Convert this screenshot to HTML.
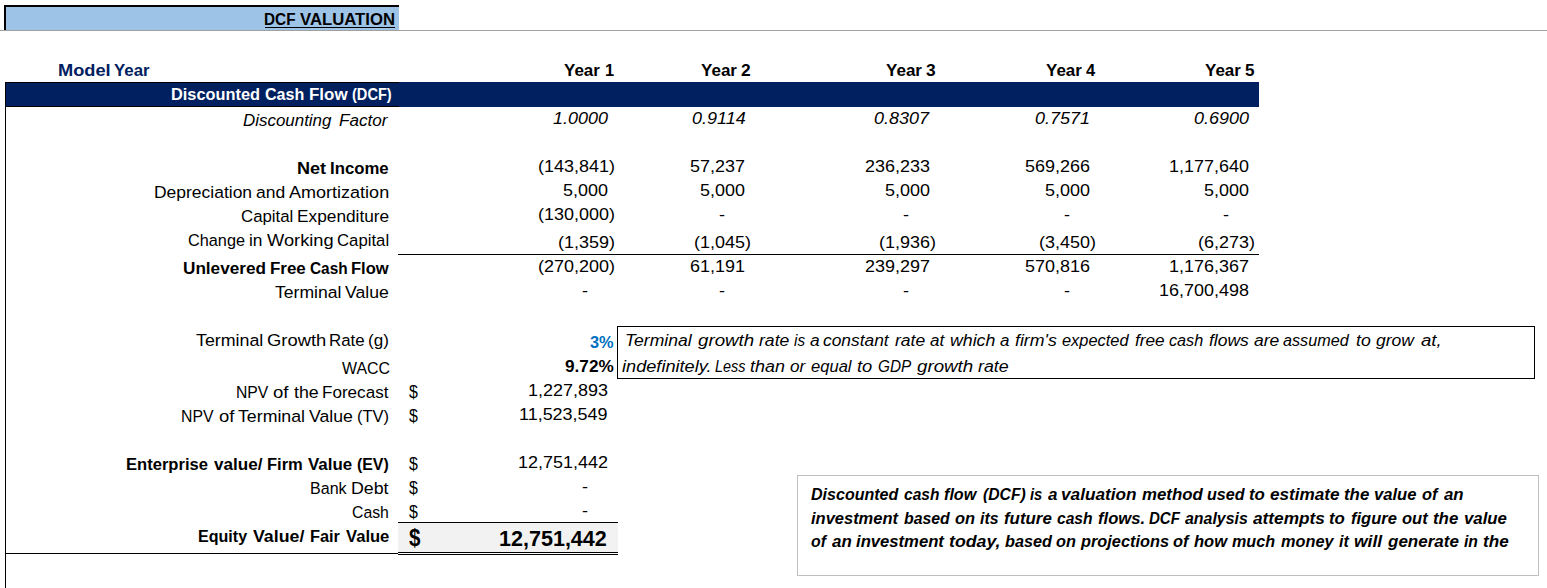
<!DOCTYPE html>
<html><head><meta charset="utf-8"><title>DCF Valuation</title>
<style>
html,body{margin:0;padding:0;background:#fff}
body{width:1547px;height:588px;position:relative;overflow:hidden;font-family:"Liberation Sans", sans-serif;color:#000}
.t{position:absolute;white-space:pre;line-height:1;transform-origin:0 0}
.b{position:absolute}
</style></head>
<body>
<div class="b" style="left:0;top:30px;width:1547px;height:1px;background:#a0a0a0"></div>
<div class="b" style="left:6px;top:7px;width:393px;height:23px;background:#9dc3e6"></div>
<div class="b" style="left:4px;top:5px;width:395px;height:2px;background:#000"></div>
<div class="b" style="left:4px;top:5px;width:2px;height:25px;background:#000"></div>
<div class="b" style="left:265px;top:27px;width:130px;height:1px;background:#000"></div>
<div class="b" style="left:5px;top:82px;width:1254px;height:25px;background:#002060"></div>
<div class="b" style="left:5px;top:82px;width:394px;height:1px;background:#000"></div>
<div class="b" style="left:5px;top:106px;width:394px;height:1px;background:#000"></div>
<div class="b" style="left:5px;top:82px;width:1px;height:506px;background:#000"></div>
<div class="b" style="left:398px;top:254px;width:861px;height:1px;background:#000"></div>
<div class="b" style="left:5px;top:553px;width:393px;height:1px;background:#000"></div>
<div class="b" style="left:398px;top:523px;width:220px;height:29px;background:#f2f2f2"></div>
<div class="b" style="left:398px;top:522px;width:220px;height:1px;background:#000"></div>
<div class="b" style="left:398px;top:552px;width:220px;height:1px;background:#000"></div>
<div class="b" style="left:398px;top:554px;width:220px;height:1px;background:#000"></div>
<div class="b" style="left:617px;top:326px;width:916px;height:51px;border:1px solid #000"></div>
<div class="b" style="left:797px;top:475px;width:740px;height:99px;border:1px solid #bfbfbf"></div>

<span class="t" style="left:537.51px;top:158px;font-size:17px;transform:scaleX(1.0563)">(143,841)</span>
<span class="t" style="left:689.87px;top:158px;font-size:17px;transform:scaleX(1.0563)">57,237</span>
<span class="t" style="left:864.73px;top:158px;font-size:17px;transform:scaleX(1.0563)">236,233</span>
<span class="t" style="left:1025.23px;top:158px;font-size:17px;transform:scaleX(1.0563)">569,266</span>
<span class="t" style="left:1169.18px;top:158px;font-size:17px;transform:scaleX(1.0563)">1,177,640</span>
<span class="t" style="left:563.20px;top:182px;font-size:17px;transform:scaleX(1.0563)">5,000</span>
<span class="t" style="left:699.90px;top:182px;font-size:17px;transform:scaleX(1.0563)">5,000</span>
<span class="t" style="left:884.80px;top:182px;font-size:17px;transform:scaleX(1.0563)">5,000</span>
<span class="t" style="left:1045.30px;top:182px;font-size:17px;transform:scaleX(1.0563)">5,000</span>
<span class="t" style="left:1204.30px;top:182px;font-size:17px;transform:scaleX(1.0563)">5,000</span>
<span class="t" style="left:537.51px;top:206px;font-size:17px;transform:scaleX(1.0563)">(130,000)</span>
<span class="t" style="left:718.72px;top:206px;font-size:17px;transform:scaleX(1.0563)">-</span>
<span class="t" style="left:903.32px;top:206px;font-size:17px;transform:scaleX(1.0563)">-</span>
<span class="t" style="left:1064.12px;top:206px;font-size:17px;transform:scaleX(1.0563)">-</span>
<span class="t" style="left:1223.22px;top:206px;font-size:17px;transform:scaleX(1.0563)">-</span>
<span class="t" style="left:557.58px;top:234px;font-size:17px;transform:scaleX(1.0563)">(1,359)</span>
<span class="t" style="left:694.08px;top:234px;font-size:17px;transform:scaleX(1.0563)">(1,045)</span>
<span class="t" style="left:879.08px;top:234px;font-size:17px;transform:scaleX(1.0563)">(1,936)</span>
<span class="t" style="left:1039.28px;top:234px;font-size:17px;transform:scaleX(1.0563)">(3,450)</span>
<span class="t" style="left:1198.48px;top:234px;font-size:17px;transform:scaleX(1.0563)">(6,273)</span>
<span class="t" style="left:537.51px;top:258px;font-size:17px;transform:scaleX(1.0563)">(270,200)</span>
<span class="t" style="left:689.87px;top:258px;font-size:17px;transform:scaleX(1.0563)">61,191</span>
<span class="t" style="left:865.00px;top:258px;font-size:17px;transform:scaleX(1.0563)">239,297</span>
<span class="t" style="left:1025.23px;top:258px;font-size:17px;transform:scaleX(1.0563)">570,816</span>
<span class="t" style="left:1169.44px;top:258px;font-size:17px;transform:scaleX(1.0563)">1,176,367</span>
<span class="t" style="left:582.12px;top:282px;font-size:17px;transform:scaleX(1.0563)">-</span>
<span class="t" style="left:718.72px;top:282px;font-size:17px;transform:scaleX(1.0563)">-</span>
<span class="t" style="left:903.32px;top:282px;font-size:17px;transform:scaleX(1.0563)">-</span>
<span class="t" style="left:1064.12px;top:282px;font-size:17px;transform:scaleX(1.0563)">-</span>
<span class="t" style="left:1159.41px;top:282px;font-size:17px;transform:scaleX(1.0563)">16,700,498</span>
<span class="t" style="left:552.61px;top:110px;font-size:17px;font-style:italic;transform:scaleX(1.0576)">1.0000</span>
<span class="t" style="left:692.02px;top:110px;font-size:17px;font-style:italic;transform:scaleX(1.0576)">0.9114</span>
<span class="t" style="left:874.28px;top:110px;font-size:17px;font-style:italic;transform:scaleX(1.0576)">0.8307</span>
<span class="t" style="left:1035.39px;top:110px;font-size:17px;font-style:italic;transform:scaleX(1.0576)">0.7571</span>
<span class="t" style="left:1193.81px;top:110px;font-size:17px;font-style:italic;transform:scaleX(1.0576)">0.6900</span>
<span class="t" style="left:527.68px;top:382px;font-size:17px;transform:scaleX(1.0563)">1,227,893</span>
<span class="t" style="left:519.23px;top:406px;font-size:17px;transform:scaleX(1.0563)">11,523,549</span>
<span class="t" style="left:517.91px;top:454px;font-size:17px;transform:scaleX(1.0563)">12,751,442</span>
<span class="t" style="left:582.12px;top:478px;font-size:17px;transform:scaleX(1.0563)">-</span>
<span class="t" style="left:582.12px;top:502px;font-size:17px;transform:scaleX(1.0563)">-</span>
<span class="t" style="left:264.37px;top:11px;font-size:17.4px;font-weight:bold;transform:scaleX(0.8811)">DCF</span>
<span class="t" style="left:300.05px;top:11px;font-size:17.4px;font-weight:bold;transform:scaleX(0.9612)">VALUATION</span>
<span class="t" style="left:57.93px;top:62px;font-size:17.4px;font-weight:bold;color:#002060;transform:scaleX(1.0475)">Model</span>
<span class="t" style="left:114.24px;top:62px;font-size:17.4px;font-weight:bold;color:#002060;transform:scaleX(0.9682)">Year</span>
<span class="t" style="left:563.95px;top:62px;font-size:17.4px;font-weight:bold;transform:scaleX(0.9759)">Year</span>
<span class="t" style="left:604.66px;top:62px;font-size:17.4px;font-weight:bold;transform:scaleX(0.9439)">1</span>
<span class="t" style="left:700.89px;top:62px;font-size:17.4px;font-weight:bold;transform:scaleX(0.9790)">Year</span>
<span class="t" style="left:741.26px;top:62px;font-size:17.4px;font-weight:bold;transform:scaleX(0.9984)">2</span>
<span class="t" style="left:885.89px;top:62px;font-size:17.4px;font-weight:bold;transform:scaleX(0.9790)">Year</span>
<span class="t" style="left:926.46px;top:62px;font-size:17.4px;font-weight:bold;transform:scaleX(0.9984)">3</span>
<span class="t" style="left:1045.74px;top:62px;font-size:17.4px;font-weight:bold;transform:scaleX(0.9760)">Year</span>
<span class="t" style="left:1086.08px;top:62px;font-size:17.4px;font-weight:bold;transform:scaleX(0.9475)">4</span>
<span class="t" style="left:1204.71px;top:62px;font-size:17.4px;font-weight:bold;transform:scaleX(0.9780)">Year</span>
<span class="t" style="left:1244.92px;top:62px;font-size:17.4px;font-weight:bold;transform:scaleX(0.9809)">5</span>
<span class="t" style="left:170.90px;top:86px;font-size:17.4px;font-weight:bold;color:#fff;transform:scaleX(0.9393)">Discounted</span>
<span class="t" style="left:264.62px;top:86px;font-size:17.4px;font-weight:bold;color:#fff;transform:scaleX(0.9245)">Cash</span>
<span class="t" style="left:308.50px;top:86px;font-size:17.4px;font-weight:bold;color:#fff;transform:scaleX(0.9745)">Flow</span>
<span class="t" style="left:352.04px;top:86px;font-size:17.4px;font-weight:bold;color:#fff;transform:scaleX(0.8385)">(DCF)</span>
<span class="t" style="left:243.10px;top:112px;font-size:17.4px;font-style:italic;transform:scaleX(0.9732)">Discounting</span>
<span class="t" style="left:338.53px;top:112px;font-size:17.4px;font-style:italic;transform:scaleX(0.9837)">Factor</span>
<span class="t" style="left:296.80px;top:160px;font-size:17.4px;font-weight:bold;transform:scaleX(1.0379)">Net</span>
<span class="t" style="left:330.49px;top:160px;font-size:17.4px;font-weight:bold;transform:scaleX(0.9628)">Income</span>
<span class="t" style="left:154.14px;top:184px;font-size:17.4px;transform:scaleX(1.0043)">Depreciation</span>
<span class="t" style="left:255.90px;top:184px;font-size:17.4px;transform:scaleX(1.0071)">and</span>
<span class="t" style="left:289.37px;top:184px;font-size:17.4px;transform:scaleX(1.0362)">Amortization</span>
<span class="t" style="left:241.01px;top:208px;font-size:17.4px;transform:scaleX(0.9671)">Capital</span>
<span class="t" style="left:296.95px;top:208px;font-size:17.4px;transform:scaleX(0.9936)">Expenditure</span>
<span class="t" style="left:187.90px;top:232px;font-size:17.4px;transform:scaleX(0.9360)">Change</span>
<span class="t" style="left:249.30px;top:232px;font-size:17.4px;transform:scaleX(0.9965)">in</span>
<span class="t" style="left:266.69px;top:232px;font-size:17.4px;transform:scaleX(1.0498)">Working</span>
<span class="t" style="left:337.49px;top:232px;font-size:17.4px;transform:scaleX(0.9624)">Capital</span>
<span class="t" style="left:182.74px;top:260px;font-size:17.4px;font-weight:bold;transform:scaleX(0.9860)">Unlevered</span>
<span class="t" style="left:269.76px;top:260px;font-size:17.4px;font-weight:bold;transform:scaleX(0.9730)">Free</span>
<span class="t" style="left:309.86px;top:260px;font-size:17.4px;font-weight:bold;transform:scaleX(0.8849)">Cash</span>
<span class="t" style="left:350.80px;top:260px;font-size:17.4px;font-weight:bold;transform:scaleX(0.9522)">Flow</span>
<span class="t" style="left:275.19px;top:284px;font-size:17.4px;transform:scaleX(1.0111)">Terminal</span>
<span class="t" style="left:345.26px;top:284px;font-size:17.4px;transform:scaleX(1.0150)">Value</span>
<span class="t" style="left:195.91px;top:332px;font-size:17.4px;transform:scaleX(1.0242)">Terminal</span>
<span class="t" style="left:266.67px;top:332px;font-size:17.4px;transform:scaleX(1.0577)">Growth</span>
<span class="t" style="left:329.06px;top:332px;font-size:17.4px;transform:scaleX(0.9703)">Rate</span>
<span class="t" style="left:368.47px;top:332px;font-size:17.4px;transform:scaleX(0.9813)">(g)</span>
<span class="t" style="left:341.57px;top:360px;font-size:17.4px;transform:scaleX(0.9146)">WACC</span>
<span class="t" style="left:236.23px;top:384px;font-size:17.4px;transform:scaleX(0.9029)">NPV</span>
<span class="t" style="left:273.45px;top:384px;font-size:17.4px;transform:scaleX(1.0688)">of</span>
<span class="t" style="left:294.01px;top:384px;font-size:17.4px;transform:scaleX(1.0223)">the</span>
<span class="t" style="left:322.43px;top:384px;font-size:17.4px;transform:scaleX(0.9817)">Forecast</span>
<span class="t" style="left:181.21px;top:408px;font-size:17.4px;transform:scaleX(0.9093)">NPV</span>
<span class="t" style="left:218.60px;top:408px;font-size:17.4px;transform:scaleX(1.0629)">of</span>
<span class="t" style="left:238.41px;top:408px;font-size:17.4px;transform:scaleX(1.0197)">Terminal</span>
<span class="t" style="left:309.45px;top:408px;font-size:17.4px;transform:scaleX(1.0153)">Value</span>
<span class="t" style="left:357.29px;top:408px;font-size:17.4px;transform:scaleX(0.9489)">(TV)</span>
<span class="t" style="left:125.79px;top:456px;font-size:17.4px;font-weight:bold;transform:scaleX(0.9523)">Enterprise</span>
<span class="t" style="left:213.51px;top:456px;font-size:17.4px;font-weight:bold;transform:scaleX(0.9825)">value/</span>
<span class="t" style="left:267.09px;top:456px;font-size:17.4px;font-weight:bold;transform:scaleX(0.9505)">Firm</span>
<span class="t" style="left:308.02px;top:456px;font-size:17.4px;font-weight:bold;transform:scaleX(0.9723)">Value</span>
<span class="t" style="left:356.94px;top:456px;font-size:17.4px;font-weight:bold;transform:scaleX(0.9127)">(EV)</span>
<span class="t" style="left:309.52px;top:480px;font-size:17.4px;transform:scaleX(0.9233)">Bank</span>
<span class="t" style="left:351.17px;top:480px;font-size:17.4px;transform:scaleX(1.0226)">Debt</span>
<span class="t" style="left:351.72px;top:504px;font-size:17.4px;transform:scaleX(0.9084)">Cash</span>
<span class="t" style="left:198.09px;top:528px;font-size:17.4px;font-weight:bold;transform:scaleX(0.9237)">Equity</span>
<span class="t" style="left:253.18px;top:528px;font-size:17.4px;font-weight:bold;transform:scaleX(1.0215)">Value/</span>
<span class="t" style="left:309.84px;top:528px;font-size:17.4px;font-weight:bold;transform:scaleX(0.9400)">Fair</span>
<span class="t" style="left:345.53px;top:528px;font-size:17.4px;font-weight:bold;transform:scaleX(0.9541)">Value</span>
<span class="t" style="left:590.09px;top:335px;font-size:16px;font-weight:bold;color:#0070C0;transform:scaleX(1.0202)">3%</span>
<span class="t" style="left:564.96px;top:359px;font-size:16px;font-weight:bold;transform:scaleX(1.0742)">9.72%</span>
<span class="t" style="left:408.68px;top:383px;font-size:18px;transform:scaleX(0.8842)">$</span>
<span class="t" style="left:408.68px;top:407px;font-size:18px;transform:scaleX(0.8842)">$</span>
<span class="t" style="left:408.68px;top:455px;font-size:18px;transform:scaleX(0.8842)">$</span>
<span class="t" style="left:408.68px;top:479px;font-size:18px;transform:scaleX(0.8842)">$</span>
<span class="t" style="left:408.68px;top:503px;font-size:18px;transform:scaleX(0.8842)">$</span>
<span class="t" style="left:409.29px;top:526px;font-size:24px;font-weight:bold;transform:scaleX(0.8549)">$</span>
<span class="t" style="left:499.35px;top:529px;font-size:21.5px;font-weight:bold;transform:scaleX(1.0019)">12,751,442</span>
<span class="t" style="left:624.75px;top:332px;font-size:17.4px;font-style:italic;transform:scaleX(1.0088)">Terminal</span>
<span class="t" style="left:697.73px;top:332px;font-size:17.4px;font-style:italic;transform:scaleX(1.0764)">growth</span>
<span class="t" style="left:758.72px;top:332px;font-size:17.4px;font-style:italic;transform:scaleX(1.0120)">rate</span>
<span class="t" style="left:793.82px;top:332px;font-size:17.4px;font-style:italic;transform:scaleX(0.8772)">is</span>
<span class="t" style="left:809.62px;top:332px;font-size:17.4px;font-style:italic;transform:scaleX(0.9966)">a</span>
<span class="t" style="left:823.02px;top:332px;font-size:17.4px;font-style:italic;transform:scaleX(0.9986)">constant</span>
<span class="t" style="left:894.70px;top:332px;font-size:17.4px;font-style:italic;transform:scaleX(1.0066)">rate</span>
<span class="t" style="left:930.14px;top:332px;font-size:17.4px;font-style:italic;transform:scaleX(0.9753)">at</span>
<span class="t" style="left:949.79px;top:332px;font-size:17.4px;font-style:italic;transform:scaleX(1.0196)">which</span>
<span class="t" style="left:1000.23px;top:332px;font-size:17.4px;font-style:italic;transform:scaleX(0.9724)">a</span>
<span class="t" style="left:1015.00px;top:332px;font-size:17.4px;font-style:italic;transform:scaleX(1.0197)">firm's</span>
<span class="t" style="left:1061.63px;top:332px;font-size:17.4px;font-style:italic;transform:scaleX(0.9432)">expected</span>
<span class="t" style="left:1134.79px;top:332px;font-size:17.4px;font-style:italic;transform:scaleX(0.9890)">free</span>
<span class="t" style="left:1168.79px;top:332px;font-size:17.4px;font-style:italic;transform:scaleX(0.9321)">cash</span>
<span class="t" style="left:1209.05px;top:332px;font-size:17.4px;font-style:italic;transform:scaleX(1.0063)">flows</span>
<span class="t" style="left:1253.55px;top:332px;font-size:17.4px;font-style:italic;transform:scaleX(1.0076)">are</span>
<span class="t" style="left:1283.48px;top:332px;font-size:17.4px;font-style:italic;transform:scaleX(0.9305)">assumed</span>
<span class="t" style="left:1355.64px;top:332px;font-size:17.4px;font-style:italic;transform:scaleX(1.0186)">to</span>
<span class="t" style="left:1375.56px;top:332px;font-size:17.4px;font-style:italic;transform:scaleX(1.0074)">grow</span>
<span class="t" style="left:1420.58px;top:332px;font-size:17.4px;font-style:italic;transform:scaleX(1.0725)">at,</span>
<span class="t" style="left:621.65px;top:358px;font-size:17.4px;font-style:italic;transform:scaleX(1.0447)">indefinitely.</span>
<span class="t" style="left:714.94px;top:358px;font-size:17.4px;font-style:italic;transform:scaleX(0.8304)">Less</span>
<span class="t" style="left:750.08px;top:358px;font-size:17.4px;font-style:italic;transform:scaleX(1.0293)">than</span>
<span class="t" style="left:790.09px;top:358px;font-size:17.4px;font-style:italic;transform:scaleX(0.9885)">or</span>
<span class="t" style="left:811.27px;top:358px;font-size:17.4px;font-style:italic;transform:scaleX(0.9531)">equal</span>
<span class="t" style="left:856.97px;top:358px;font-size:17.4px;font-style:italic;transform:scaleX(1.0556)">to</span>
<span class="t" style="left:877.70px;top:358px;font-size:17.4px;font-style:italic;transform:scaleX(0.8811)">GDP</span>
<span class="t" style="left:916.94px;top:358px;font-size:17.4px;font-style:italic;transform:scaleX(1.0761)">growth</span>
<span class="t" style="left:978.07px;top:358px;font-size:17.4px;font-style:italic;transform:scaleX(1.0224)">rate</span>
<span class="t" style="left:810.97px;top:486px;font-size:17.4px;font-weight:bold;font-style:italic;transform:scaleX(0.9223)">Discounted</span>
<span class="t" style="left:903.54px;top:486px;font-size:17.4px;font-weight:bold;font-style:italic;transform:scaleX(0.8918)">cash</span>
<span class="t" style="left:944.44px;top:486px;font-size:17.4px;font-weight:bold;font-style:italic;transform:scaleX(0.9295)">flow</span>
<span class="t" style="left:982.88px;top:486px;font-size:17.4px;font-weight:bold;font-style:italic;transform:scaleX(0.9026)">(DCF)</span>
<span class="t" style="left:1030.40px;top:486px;font-size:17.4px;font-weight:bold;font-style:italic;transform:scaleX(0.8497)">is</span>
<span class="t" style="left:1047.73px;top:486px;font-size:17.4px;font-weight:bold;font-style:italic;transform:scaleX(0.9779)">a</span>
<span class="t" style="left:1061.09px;top:486px;font-size:17.4px;font-weight:bold;font-style:italic;transform:scaleX(0.9899)">valuation</span>
<span class="t" style="left:1142.04px;top:486px;font-size:17.4px;font-weight:bold;font-style:italic;transform:scaleX(0.9677)">method</span>
<span class="t" style="left:1207.23px;top:486px;font-size:17.4px;font-weight:bold;font-style:italic;transform:scaleX(0.9264)">used</span>
<span class="t" style="left:1249.37px;top:486px;font-size:17.4px;font-weight:bold;font-style:italic;transform:scaleX(0.9707)">to</span>
<span class="t" style="left:1270.06px;top:486px;font-size:17.4px;font-weight:bold;font-style:italic;transform:scaleX(0.9854)">estimate</span>
<span class="t" style="left:1344.36px;top:486px;font-size:17.4px;font-weight:bold;font-style:italic;transform:scaleX(0.9687)">the</span>
<span class="t" style="left:1374.48px;top:486px;font-size:17.4px;font-weight:bold;font-style:italic;transform:scaleX(0.9543)">value</span>
<span class="t" style="left:1422.32px;top:486px;font-size:17.4px;font-weight:bold;font-style:italic;transform:scaleX(0.9453)">of</span>
<span class="t" style="left:1443.68px;top:486px;font-size:17.4px;font-weight:bold;font-style:italic;transform:scaleX(0.9661)">an</span>
<span class="t" style="left:811.08px;top:510px;font-size:17.4px;font-weight:bold;font-style:italic;transform:scaleX(0.9474)">investment</span>
<span class="t" style="left:904.35px;top:510px;font-size:17.4px;font-weight:bold;font-style:italic;transform:scaleX(0.9105)">based</span>
<span class="t" style="left:955.44px;top:510px;font-size:17.4px;font-weight:bold;font-style:italic;transform:scaleX(0.9442)">on</span>
<span class="t" style="left:980.36px;top:510px;font-size:17.4px;font-weight:bold;font-style:italic;transform:scaleX(0.9141)">its</span>
<span class="t" style="left:1004.38px;top:510px;font-size:17.4px;font-weight:bold;font-style:italic;transform:scaleX(0.9703)">future</span>
<span class="t" style="left:1056.57px;top:510px;font-size:17.4px;font-weight:bold;font-style:italic;transform:scaleX(0.8976)">cash</span>
<span class="t" style="left:1097.54px;top:510px;font-size:17.4px;font-weight:bold;font-style:italic;transform:scaleX(0.9571)">flows.</span>
<span class="t" style="left:1148.97px;top:510px;font-size:17.4px;font-weight:bold;font-style:italic;transform:scaleX(0.8649)">DCF</span>
<span class="t" style="left:1185.09px;top:510px;font-size:17.4px;font-weight:bold;font-style:italic;transform:scaleX(0.9137)">analysis</span>
<span class="t" style="left:1252.80px;top:510px;font-size:17.4px;font-weight:bold;font-style:italic;transform:scaleX(0.9923)">attempts</span>
<span class="t" style="left:1329.38px;top:510px;font-size:17.4px;font-weight:bold;font-style:italic;transform:scaleX(0.9694)">to</span>
<span class="t" style="left:1351.31px;top:510px;font-size:17.4px;font-weight:bold;font-style:italic;transform:scaleX(0.9480)">figure</span>
<span class="t" style="left:1401.96px;top:510px;font-size:17.4px;font-weight:bold;font-style:italic;transform:scaleX(0.9525)">out</span>
<span class="t" style="left:1433.08px;top:510px;font-size:17.4px;font-weight:bold;font-style:italic;transform:scaleX(0.9678)">the</span>
<span class="t" style="left:1463.53px;top:510px;font-size:17.4px;font-weight:bold;font-style:italic;transform:scaleX(0.9655)">value</span>
<span class="t" style="left:810.68px;top:533px;font-size:17.4px;font-weight:bold;font-style:italic;transform:scaleX(0.9123)">of</span>
<span class="t" style="left:831.87px;top:533px;font-size:17.4px;font-weight:bold;font-style:italic;transform:scaleX(0.9722)">an</span>
<span class="t" style="left:855.97px;top:533px;font-size:17.4px;font-weight:bold;font-style:italic;transform:scaleX(0.9574)">investment</span>
<span class="t" style="left:949.19px;top:533px;font-size:17.4px;font-weight:bold;font-style:italic;transform:scaleX(1.0193)">today,</span>
<span class="t" style="left:1004.78px;top:533px;font-size:17.4px;font-weight:bold;font-style:italic;transform:scaleX(0.9328)">based</span>
<span class="t" style="left:1055.96px;top:533px;font-size:17.4px;font-weight:bold;font-style:italic;transform:scaleX(0.9370)">on</span>
<span class="t" style="left:1080.97px;top:533px;font-size:17.4px;font-weight:bold;font-style:italic;transform:scaleX(0.9386)">projections</span>
<span class="t" style="left:1173.10px;top:533px;font-size:17.4px;font-weight:bold;font-style:italic;transform:scaleX(0.9480)">of</span>
<span class="t" style="left:1193.85px;top:533px;font-size:17.4px;font-weight:bold;font-style:italic;transform:scaleX(0.9526)">how</span>
<span class="t" style="left:1232.46px;top:533px;font-size:17.4px;font-weight:bold;font-style:italic;transform:scaleX(0.9278)">much</span>
<span class="t" style="left:1281.00px;top:533px;font-size:17.4px;font-weight:bold;font-style:italic;transform:scaleX(0.9370)">money</span>
<span class="t" style="left:1338.82px;top:533px;font-size:17.4px;font-weight:bold;font-style:italic;transform:scaleX(0.9177)">it</span>
<span class="t" style="left:1354.35px;top:533px;font-size:17.4px;font-weight:bold;font-style:italic;transform:scaleX(1.0067)">will</span>
<span class="t" style="left:1387.59px;top:533px;font-size:17.4px;font-weight:bold;font-style:italic;transform:scaleX(0.9780)">generate</span>
<span class="t" style="left:1463.97px;top:533px;font-size:17.4px;font-weight:bold;font-style:italic;transform:scaleX(0.9038)">in</span>
<span class="t" style="left:1482.78px;top:533px;font-size:17.4px;font-weight:bold;font-style:italic;transform:scaleX(0.9829)">the</span>
</body></html>
